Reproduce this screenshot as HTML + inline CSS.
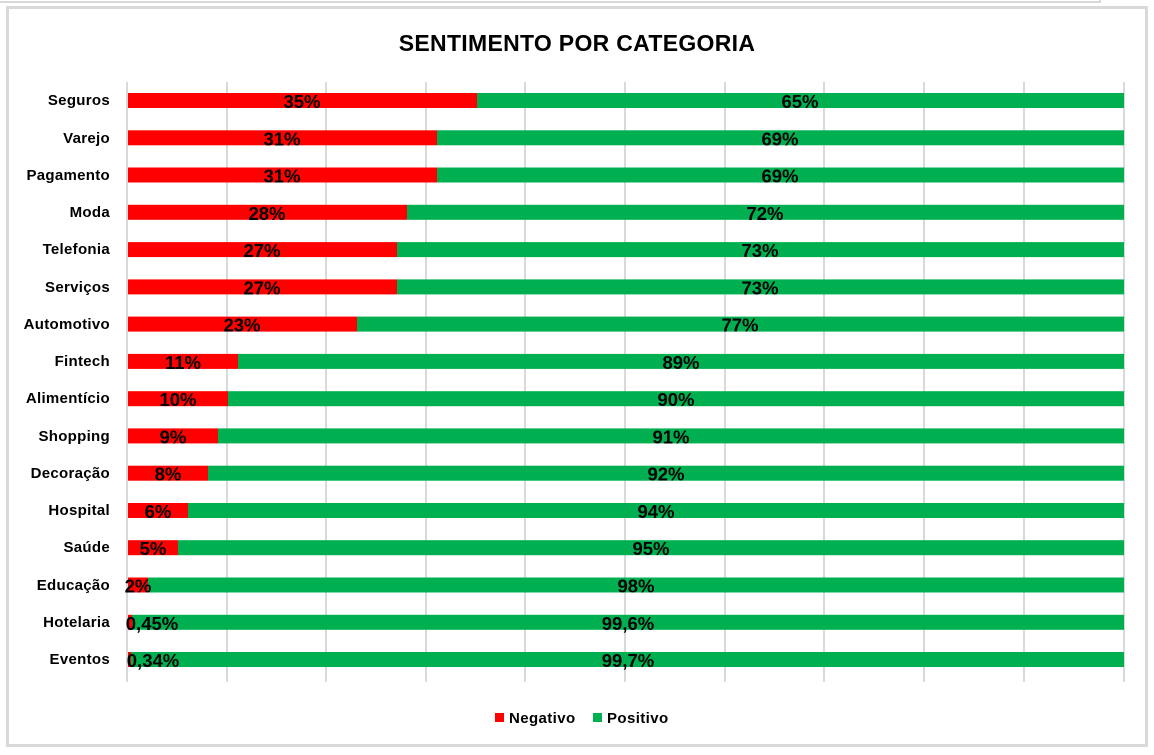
<!DOCTYPE html>
<html><head><meta charset="utf-8"><style>
html,body{margin:0;padding:0;background:#fff;}
svg{display:block;}
text{font-family:"Liberation Sans",sans-serif;font-weight:bold;fill:#000;}
</style></head><body>
<svg width="1154" height="755" xmlns="http://www.w3.org/2000/svg">
<rect x="0" y="0" width="1154" height="755" fill="#fff"/>
<polyline points="0,2 1100,2 1100,0" fill="none" stroke="#d9d9d9" stroke-width="2"/>
<rect x="7.5" y="7.5" width="1139" height="738" fill="#fff" stroke="#d9d9d9" stroke-width="3"/>
<text x="577" y="51" text-anchor="middle" font-size="23" letter-spacing="0.3">SENTIMENTO POR CATEGORIA</text>
<g stroke="#d9d9d9" stroke-width="2">
<line x1="127" y1="82" x2="127" y2="682"/><line x1="227" y1="82" x2="227" y2="682"/><line x1="326" y1="82" x2="326" y2="682"/><line x1="426" y1="82" x2="426" y2="682"/><line x1="525" y1="82" x2="525" y2="682"/><line x1="625" y1="82" x2="625" y2="682"/><line x1="725" y1="82" x2="725" y2="682"/><line x1="824" y1="82" x2="824" y2="682"/><line x1="924" y1="82" x2="924" y2="682"/><line x1="1024" y1="82" x2="1024" y2="682"/><line x1="1124" y1="82" x2="1124" y2="682"/>
</g>
<rect x="495" y="713" width="9" height="9" fill="#ff0000"/>
<text x="509" y="723" font-size="15" letter-spacing="0.4">Negativo</text>
<rect x="593" y="713" width="9" height="9" fill="#00b050"/>
<text x="607" y="723" font-size="15" letter-spacing="0.4">Positivo</text>
<g font-size="15" text-anchor="end" letter-spacing="0.3">
<text x="110" y="105">Seguros</text>
<text x="110" y="143">Varejo</text>
<text x="110" y="180">Pagamento</text>
<text x="110" y="217">Moda</text>
<text x="110" y="254">Telefonia</text>
<text x="110" y="292">Serviços</text>
<text x="110" y="329">Automotivo</text>
<text x="110" y="366">Fintech</text>
<text x="110" y="403">Alimentício</text>
<text x="110" y="441">Shopping</text>
<text x="110" y="478">Decoração</text>
<text x="110" y="515">Hospital</text>
<text x="110" y="552">Saúde</text>
<text x="110" y="590">Educação</text>
<text x="110" y="627">Hotelaria</text>
<text x="110" y="664">Eventos</text>
</g>
<g>
<rect x="128" y="93" width="349" height="15" fill="#ff0000"/><rect x="477" y="93" width="647" height="15" fill="#00b050"/>
<rect x="128" y="130.3" width="309" height="15" fill="#ff0000"/><rect x="437" y="130.3" width="687" height="15" fill="#00b050"/>
<rect x="128" y="167.5" width="309" height="15" fill="#ff0000"/><rect x="437" y="167.5" width="687" height="15" fill="#00b050"/>
<rect x="128" y="204.8" width="279" height="15" fill="#ff0000"/><rect x="407" y="204.8" width="717" height="15" fill="#00b050"/>
<rect x="128" y="242.1" width="269" height="15" fill="#ff0000"/><rect x="397" y="242.1" width="727" height="15" fill="#00b050"/>
<rect x="128" y="279.4" width="269" height="15" fill="#ff0000"/><rect x="397" y="279.4" width="727" height="15" fill="#00b050"/>
<rect x="128" y="316.6" width="229" height="15" fill="#ff0000"/><rect x="357" y="316.6" width="767" height="15" fill="#00b050"/>
<rect x="128" y="353.9" width="110" height="15" fill="#ff0000"/><rect x="238" y="353.9" width="886" height="15" fill="#00b050"/>
<rect x="128" y="391.2" width="100" height="15" fill="#ff0000"/><rect x="228" y="391.2" width="896" height="15" fill="#00b050"/>
<rect x="128" y="428.4" width="90" height="15" fill="#ff0000"/><rect x="218" y="428.4" width="906" height="15" fill="#00b050"/>
<rect x="128" y="465.7" width="80" height="15" fill="#ff0000"/><rect x="208" y="465.7" width="916" height="15" fill="#00b050"/>
<rect x="128" y="503" width="60" height="15" fill="#ff0000"/><rect x="188" y="503" width="936" height="15" fill="#00b050"/>
<rect x="128" y="540.2" width="50" height="15" fill="#ff0000"/><rect x="178" y="540.2" width="946" height="15" fill="#00b050"/>
<rect x="128" y="577.5" width="20" height="15" fill="#ff0000"/><rect x="148" y="577.5" width="976" height="15" fill="#00b050"/>
<rect x="128" y="614.8" width="4" height="15" fill="#ff0000"/><rect x="132" y="614.8" width="992" height="15" fill="#00b050"/>
<rect x="128" y="652" width="3" height="15" fill="#ff0000"/><rect x="131" y="652" width="993" height="15" fill="#00b050"/>
</g>
<g font-size="18.5" text-anchor="middle">
<text x="302" y="108">35%</text><text x="800" y="108">65%</text>
<text x="282" y="145.3">31%</text><text x="780" y="145.3">69%</text>
<text x="282" y="182.5">31%</text><text x="780" y="182.5">69%</text>
<text x="267" y="219.8">28%</text><text x="765" y="219.8">72%</text>
<text x="262" y="257.1">27%</text><text x="760" y="257.1">73%</text>
<text x="262" y="294.4">27%</text><text x="760" y="294.4">73%</text>
<text x="242" y="331.6">23%</text><text x="740" y="331.6">77%</text>
<text x="183" y="368.9">11%</text><text x="681" y="368.9">89%</text>
<text x="178" y="406.2">10%</text><text x="676" y="406.2">90%</text>
<text x="173" y="443.4">9%</text><text x="671" y="443.4">91%</text>
<text x="168" y="480.7">8%</text><text x="666" y="480.7">92%</text>
<text x="158" y="518">6%</text><text x="656" y="518">94%</text>
<text x="153" y="555.2">5%</text><text x="651" y="555.2">95%</text>
<text x="138" y="592.5">2%</text><text x="636" y="592.5">98%</text>
<text x="152" y="629.8">0,45%</text><text x="628" y="629.8">99,6%</text>
<text x="153" y="667">0,34%</text><text x="628" y="667">99,7%</text>
</g>
</svg>
</body></html>
